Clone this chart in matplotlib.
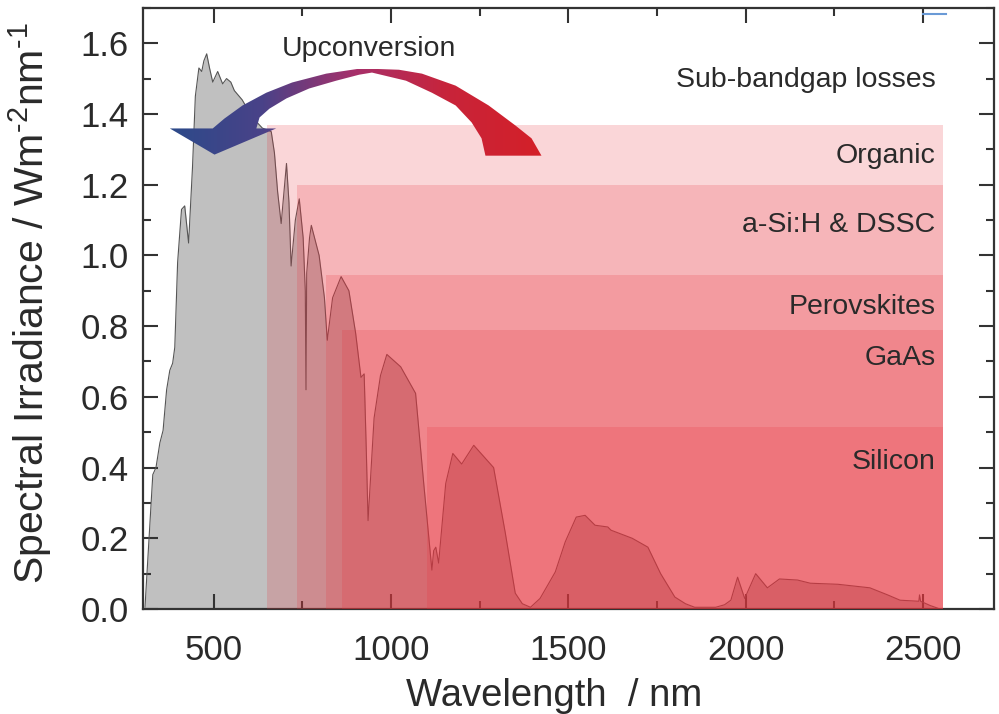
import matplotlib
matplotlib.use("Agg")
import matplotlib.pyplot as plt
import numpy as np
from matplotlib.colors import LinearSegmentedColormap
from matplotlib.patches import Polygon
from matplotlib.ticker import MultipleLocator

plt.rcParams["font.family"] = ["Liberation Sans", "DejaVu Sans"]
plt.rcParams["mathtext.fontset"] = "custom"
plt.rcParams["mathtext.rm"] = "Liberation Sans"
plt.rcParams["mathtext.it"] = "Liberation Sans:italic"
plt.rcParams["mathtext.bf"] = "Liberation Sans:bold"

# AM1.5G-like solar spectrum (nm, W m^-2 nm^-1)
wavelength = [306, 328, 337, 348, 357, 367, 376, 384, 390, 398, 409, 418, 429, 440,
              448, 458, 466, 472, 480, 488, 497, 511, 525, 536, 548, 558, 580, 609,
              637, 662, 671, 680, 690, 705, 712, 718, 730, 741, 752, 758, 760, 762,
              770, 775, 797, 812, 820, 835, 859, 881, 900, 915, 924, 930, 935, 952,
              970, 988, 1027, 1069, 1092, 1115, 1120, 1126, 1134, 1154, 1174, 1199,
              1233, 1289, 1322, 1350, 1370, 1393, 1420, 1443, 1463, 1491, 1522, 1547,
              1575, 1611, 1620, 1680, 1724, 1760, 1800, 1830, 1856, 1915, 1940, 1958,
              1977, 1997, 2028, 2061, 2095, 2146, 2182, 2260, 2350, 2400, 2435, 2488,
              2490, 2493, 2520, 2548]
irradiance = [0.005, 0.38, 0.40, 0.47, 0.505, 0.62, 0.675, 0.695, 0.74, 0.98, 1.13, 1.14,
              1.035, 1.25, 1.45, 1.53, 1.52, 1.55, 1.57, 1.53, 1.49, 1.52, 1.485, 1.50,
              1.49, 1.466, 1.44, 1.39, 1.36, 1.35, 1.29, 1.18, 1.09, 1.26, 1.15, 0.97,
              1.10, 1.16, 1.05, 0.90, 0.62, 0.95, 1.05, 1.085, 1.0, 0.88, 0.76, 0.88,
              0.94, 0.90, 0.78, 0.655, 0.665, 0.45, 0.25, 0.54, 0.66, 0.72, 0.685, 0.61,
              0.355, 0.11, 0.165, 0.175, 0.13, 0.355, 0.44, 0.41, 0.463, 0.40, 0.215,
              0.045, 0.015, 0.005, 0.03, 0.07, 0.105, 0.19, 0.26, 0.265, 0.237, 0.232,
              0.223, 0.20, 0.175, 0.10, 0.034, 0.015, 0.005, 0.005, 0.012, 0.025, 0.09,
              0.03, 0.10, 0.06, 0.085, 0.082, 0.073, 0.07, 0.06, 0.04, 0.025, 0.022,
              0.04, 0.022, 0.01, 0.0]

# absorber bands: onset wavelength and band height
band_names = ["Organic", "a-Si:H & DSSC", "Perovskites", "GaAs", "Silicon"]
band_onset = [650, 735, 817, 862, 1100]
band_height = [1.37, 1.20, 0.945, 0.79, 0.515]
band_end = 2555

x_ticks = [500, 1000, 1500, 2000, 2500]
y_ticks = [0.0, 0.2, 0.4, 0.6, 0.8, 1.0, 1.2, 1.4, 1.6]

# upconversion arrow outline (nm, irradiance units):
# red tail -> outer arc -> arrow head -> inner arc -> back to tail
arrow_x = [1424, 1396, 1351, 1275, 1182, 1087, 1022, 938, 910, 817, 721, 648, 581,
           530, 497, 376, 502, 676, 620, 629, 657, 705, 769, 845, 910, 946, 1042,
           1115, 1182, 1227, 1255, 1266]
arrow_y = [1.282, 1.331, 1.367, 1.424, 1.480, 1.514, 1.525, 1.528, 1.528, 1.514,
           1.489, 1.460, 1.424, 1.387, 1.359, 1.359, 1.285, 1.359, 1.359, 1.390,
           1.415, 1.444, 1.472, 1.494, 1.511, 1.517, 1.494, 1.460, 1.424, 1.376,
           1.331, 1.282]

TEXT = "#2a2a2a"
BAND_RED = (0.91, 0.20, 0.24)

fig = plt.figure(figsize=(9.99, 7.14), dpi=100)
ax = fig.add_axes([0.143, 0.147, 0.852, 0.842])

ax.fill_between(wavelength, irradiance, color="#c0c0c0", lw=0, zorder=1)
ax.plot(wavelength, irradiance, color="#555555", lw=0.8, zorder=2)

for onset, height in zip(band_onset, band_height):
    ax.bar(onset, height, width=band_end - onset, align="edge",
           color=BAND_RED, alpha=0.2, lw=0, zorder=3)

label_y = [1.28, 1.085, 0.855, 0.71, 0.415]
for name, ly in zip(band_names, label_y):
    ax.text(2535, ly, name, ha="right", va="center", fontsize=20.5, color=TEXT, zorder=6)
ax.text(2535, 1.495, "Sub-bandgap losses", ha="right", va="center",
        fontsize=20.5, color=TEXT, zorder=6)

# gradient arrow: horizontal blue -> purple -> red, clipped to the outline
cmap = LinearSegmentedColormap.from_list(
    "upconv", ["#2c4a8a", "#4a4288", "#a8306a", "#c8243a", "#d42028"])
poly = Polygon(np.column_stack([arrow_x, arrow_y]), closed=True,
               facecolor="none", edgecolor="none", zorder=5)
ax.add_patch(poly)
grad = np.linspace(0, 1, 256).reshape(1, -1)
im = ax.imshow(grad, cmap=cmap, aspect="auto", zorder=5,
               extent=[min(arrow_x), max(arrow_x), min(arrow_y), max(arrow_y)],
               interpolation="bilinear")
im.set_clip_path(poly)
ax.text(938, 1.585, "Upconversion", ha="center", va="center", fontsize=20.5,
        color=TEXT, zorder=6)

# stray legend stub in the top right corner of the original
ax.plot([2500, 2565], [1.684, 1.684], color="#6a9ad6", lw=1.5, zorder=6)

ax.set_xlim(300, 2700)
ax.set_ylim(0, 1.7)
ax.set_xticks(x_ticks)
ax.set_yticks(y_ticks)
ax.set_yticklabels([f"{v:.1f}" for v in y_ticks])
ax.xaxis.set_minor_locator(MultipleLocator(250))
ax.yaxis.set_minor_locator(MultipleLocator(0.1))
ax.tick_params(which="both", direction="in", top=True, right=True, width=1.5,
               color="#333333", labelcolor=TEXT, labelsize=25)
ax.tick_params(which="major", length=11)
ax.tick_params(which="minor", length=6)
ax.tick_params(axis="x", pad=18)
ax.tick_params(axis="y", pad=10)
for sp in ax.spines.values():
    sp.set_linewidth(1.6)
    sp.set_color("#333333")

ax.set_xlabel("Wavelength  / nm", fontsize=27.5, color=TEXT)
ax.xaxis.set_label_coords(0.483, -0.115)
ax.set_ylabel(r"Spectral Irradiance / Wm$^{\text{-2}}$nm$^{\text{-1}}$", fontsize=29.5,
              color=TEXT)
ax.yaxis.set_label_coords(-0.104, 0.508)

fig.savefig("out.png", dpi=100)
